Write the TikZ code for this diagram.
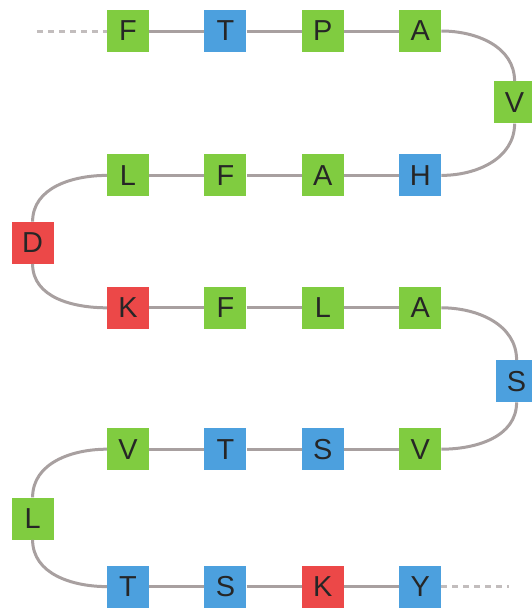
\documentclass[tikz,border=0pt]{standalone}
\usepackage{fontspec}
\setmainfont{Liberation Sans}
\usetikzlibrary{positioning}

\definecolor{hphgreen}{RGB}{128,204,64}
\definecolor{polblue}{RGB}{76,160,222}
\definecolor{chgred}{RGB}{236,72,72}
\definecolor{chaingray}{RGB}{168,160,160}

\begin{document}
\begin{tikzpicture}[
residue/.style={rectangle, minimum size=42bp, inner sep=0pt, text=black!85, font=\fontsize{29}{29}\selectfont},
hydrophobic/.style={residue, fill=hphgreen},
polar/.style={residue, fill=polblue},
charged/.style={residue, fill=chgred},
bond/.style={draw=chaingray, line width=3bp},
loose/.style={draw=chaingray!70, line width=3bp, dash pattern=on 6bp off 5bp},
node distance=96bp and 55bp
]
\useasboundingbox (0,0) rectangle (532bp,-609bp);

% first row, left to right
\node[hydrophobic](f1) at (128bp,-31bp){F};
\node[polar](t2)[right=of f1]{T};
\node[hydrophobic](p3)[right=of t2]{P};
\node[hydrophobic](a4)[right=of p3]{A};
\node[hydrophobic](v5)[below right=29bp and 52bp of a4]{V};

% second row, right to left
\node[hydrophobic](l9)[below=102bp of f1]{L};
\node[hydrophobic](f8)[right=of l9]{F};
\node[hydrophobic](a7)[right=of f8]{A};
\node[polar](h6)[right=of a7]{H};
\node[charged](d10)[below left=25bp and 53bp of l9]{D};

% third row
\node[charged](k11)[below=90bp of l9]{K};
\node[hydrophobic](f12)[right=of k11]{F};
\node[hydrophobic](l13)[right=of f12]{L};
\node[hydrophobic](a14)[right=of l13]{A};
\node[polar](s15)[below right=31bp and 54bp of a14]{S};

% fourth row, right to left
\node[hydrophobic](v19)[below=99bp of k11]{V};
\node[polar](t18)[right=of v19]{T};
\node[polar](s17)[right=of t18]{S};
\node[hydrophobic](v16)[right=of s17]{V};
\node[hydrophobic](l20)[below left=27bp and 53bp of v19]{L};

% last row
\node[polar](t21)[below=95bp of v19]{T};
\node[polar](s22)[right=of t21]{S};
\node[charged](k23)[right=of s22]{K};
\node[polar](y24)[right=of k23]{Y};

\coordinate (nterm) at ([xshift=-70bp]f1.west);
\coordinate (cterm) at ([xshift=68bp]y24.east);

\draw[loose] (nterm) -- (f1);
\draw[bond] (f1) -- (t2) -- (p3) -- (a4);
\draw[bond] (a4.east) to[out=0,in=90] (v5.north);
\draw[bond] (v5.south) to[out=-90,in=0] (h6.east);
\draw[bond] (h6) -- (a7) -- (f8) -- (l9);
\draw[bond] (l9.west) to[out=180,in=90] (d10.north);
\draw[bond] (d10.south) to[out=-90,in=180] (k11.west);
\draw[bond] (k11) -- (f12) -- (l13) -- (a14);
\draw[bond] (a14.east) to[out=0,in=90] (s15.north);
\draw[bond] (s15.south) to[out=-90,in=0] (v16.east);
\draw[bond] (v16) -- (s17) -- (t18) -- (v19);
\draw[bond] (v19.west) to[out=180,in=90] (l20.north);
\draw[bond] (l20.south) to[out=-90,in=180] (t21.west);
\draw[bond] (t21) -- (s22) -- (k23) -- (y24);
\draw[loose] (y24) -- (cterm);
\end{tikzpicture}
\end{document}
